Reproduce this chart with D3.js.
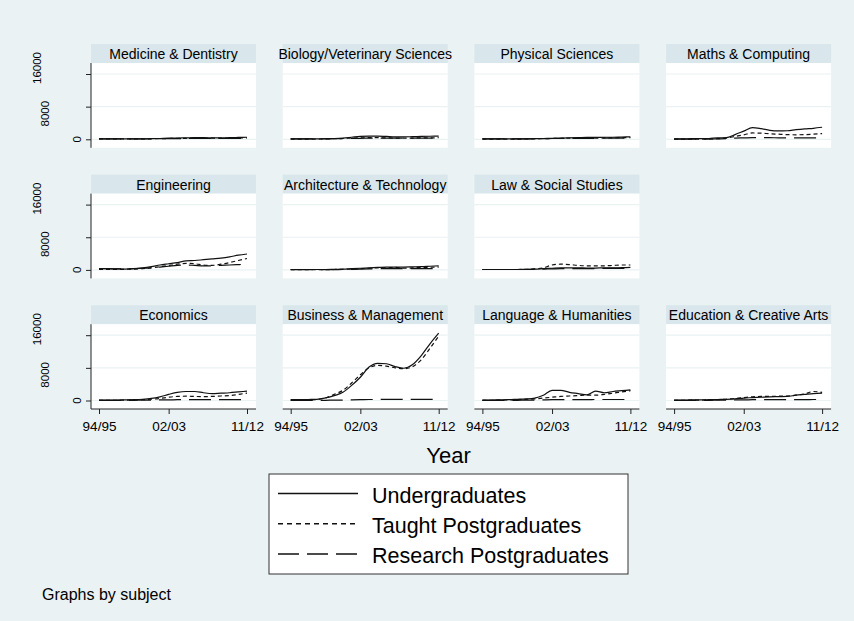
<!DOCTYPE html>
<html>
<head>
<meta charset="utf-8">
<script src="https://cdn.jsdelivr.net/npm/d3@7"></script>
<style>
html,body{margin:0;padding:0;background:#EAF2F3;}
svg{display:block;font-family:"Liberation Sans",Arial,sans-serif;}
</style>
</head>
<body>
<svg id="chart" width="854" height="621"></svg>
<script>
const years = ["94/95","95/96","96/97","97/98","98/99","99/00","00/01","01/02","02/03","03/04","04/05","05/06","06/07","07/08","08/09","09/10","10/11","11/12"];
const xTickLabels = ["94/95","02/03","11/12"];
const yTicks = [0, 8000, 16000];
const subjects = ["Medicine & Dentistry","Biology/Veterinary Sciences","Physical Sciences","Maths & Computing",
  "Engineering","Architecture & Technology","Law & Social Studies",
  "Economics","Business & Management","Language & Humanities","Education & Creative Arts"];
const seriesNames = ["Undergraduates","Taught Postgraduates","Research Postgraduates"];

const undergraduates = [
  [100,100,100,100,100,100,150,200,300,300,350,400,400,350,350,400,450,500],
  [100,100,100,100,150,200,300,500,700,800,800,700,600,600,650,700,750,800],
  [100,100,100,100,100,120,150,200,250,300,350,400,450,450,500,500,550,600],
  [100,100,150,150,200,350,400,1150,2000,2850,2600,2200,2050,2100,2350,2550,2700,2950],
  [300,300,250,200,300,500,800,1200,1500,1800,2200,2300,2500,2700,2900,3200,3600,3900],
  [100,100,100,100,100,150,200,300,400,500,600,700,700,700,750,800,900,1000],
  [100,100,100,100,100,150,200,300,400,500,500,500,450,450,500,500,550,600],
  [100,100,100,150,200,300,500,900,1500,2000,2200,2200,1900,1700,1800,1900,2100,2300],
  [200,200,250,300,650,1200,2000,3700,5700,8200,9100,9000,8300,7900,8800,11000,13900,16500],
  [100,100,150,200,300,400,600,1300,2500,2500,2000,1700,1400,2300,1900,2200,2400,2600],
  [100,100,150,150,200,250,300,400,600,700,800,900,950,1000,1300,1500,1700,1800]
];
const taughtPostgraduates = [
  [100,100,100,100,100,100,120,150,200,250,250,300,300,300,300,300,350,350],
  [50,50,50,50,100,150,200,300,350,400,400,350,300,300,300,350,350,400],
  [50,50,50,50,50,80,100,150,200,250,300,300,300,300,350,350,400,400],
  [50,50,50,50,100,150,300,700,1100,1550,1500,1350,1250,1150,1100,1150,1250,1400],
  [100,100,100,150,200,300,500,800,1100,1400,1600,1500,1200,1100,1400,1800,2300,2800],
  [50,50,50,50,50,100,150,200,300,400,500,500,600,400,500,600,650,700],
  [100,100,100,100,100,150,250,500,1200,1400,1300,1100,1000,1000,1000,1100,1200,1200],
  [50,50,50,100,150,200,300,500,800,1000,1050,1000,950,1000,1100,1200,1500,1800],
  [100,100,150,250,600,1500,2500,4300,6300,8000,8600,8400,8000,7800,8300,10000,12800,15800],
  [50,50,100,150,200,300,400,600,800,1000,1100,1200,1300,1300,1500,1800,2100,2400],
  [50,50,100,100,150,200,300,500,700,900,1000,1000,1050,1100,1300,1600,2200,2000]
];
const researchPostgraduates = [
  [100,100,100,100,100,100,100,150,150,150,200,200,200,200,200,200,200,200],
  [100,100,100,100,100,150,150,200,250,300,300,300,300,300,300,300,300,300],
  [100,100,100,100,100,100,150,150,200,200,250,250,250,250,300,300,300,300],
  [50,50,50,50,50,100,150,300,350,400,400,400,350,350,350,350,350,350],
  [300,300,250,250,300,400,500,700,900,1100,1200,1100,1000,1000,1100,1200,1300,1400],
  [50,50,50,50,50,80,100,150,200,250,300,300,300,300,300,300,300,300],
  [100,100,100,100,100,100,150,200,250,300,300,300,300,300,350,350,350,400],
  [50,50,50,50,50,100,100,150,150,200,200,200,200,200,200,200,200,200],
  [50,50,50,50,50,100,100,150,200,250,250,300,300,300,300,300,300,300],
  [50,50,50,50,50,100,100,150,200,200,200,200,200,250,250,250,250,250],
  [50,50,50,50,50,80,100,150,150,200,200,200,200,200,200,200,250,250]
];
const cells = [0,1,2,3,4,5,6,8,9,10,11];

const seriesData = [undergraduates, taughtPostgraduates, researchPostgraduates];
const dashes = [null, "4,3", "22,8"];
const legendDashes = [null, "5,4", "21,8"];

const svg = d3.select("#chart");
svg.append("rect").attr("width",854).attr("height",621).attr("fill","#EAF2F3");

const PW = 165, colStep = 191.7, rowStep = 130.6, left0 = 91, top0 = 44;
const yLabelOff = [[0,0],[-32,7],[-40,-6]];

subjects.forEach((name, i) => {
  const cell = cells[i];
  const r = Math.floor(cell/4), c = cell % 4;
  const left = left0 + c*colStep, top = top0 + r*rowStep;
  const plotTop = top + 19, plotBottom = top + 103.8;
  const x = d3.scalePoint(years, [left+8, left+156]);
  const y = d3.scaleLinear([0,16000], [top+95.3, top+30]);
  const g = svg.append("g");
  g.append("rect").attr("x",left).attr("y",top).attr("width",PW).attr("height",19).attr("fill","#D9E6EB");
  g.append("text").attr("x",left+PW/2).attr("y",top+15).attr("text-anchor","middle")
    .attr("font-size",14).attr("fill","#000").text(name);
  g.append("rect").attr("x",left).attr("y",plotTop).attr("width",PW).attr("height",plotBottom-plotTop).attr("fill","#fff");
  g.selectAll("line.grid").data(yTicks).join("line").attr("class","grid")
    .attr("x1",left).attr("x2",left+PW).attr("y1",d=>y(d)).attr("y2",d=>y(d))
    .attr("stroke","#EAF2F3").attr("stroke-width",1.2);
  if (c === 0) {
    const ax = g.append("g").attr("transform",`translate(${left},0)`)
      .call(d3.axisLeft(y).tickValues(yTicks).tickSize(5).tickFormat(d3.format("d")));
    ax.select(".domain").remove();
    ax.selectAll(".tick line").attr("stroke","#222");
    ax.selectAll(".tick text").remove();
    g.append("line").attr("x1",left).attr("x2",left).attr("y1",plotTop).attr("y2",plotBottom).attr("stroke","#222").attr("stroke-width",1);
    yTicks.forEach((t, k) => {
      const cx = left - 14 + yLabelOff[k][0], cy = y(t) + yLabelOff[k][1];
      g.append("text").attr("transform",`translate(${cx},${cy}) rotate(-90)`)
        .attr("text-anchor","middle").attr("dy","0.35em").attr("font-size",11.5).attr("fill","#000").text(t);
    });
  }
  if (r === 2) {
    const ax = g.append("g").attr("transform",`translate(0,${plotBottom})`)
      .call(d3.axisBottom(x).tickValues(xTickLabels).tickSize(5));
    ax.select(".domain").remove();
    ax.selectAll(".tick line").attr("stroke","#222");
    ax.selectAll(".tick text").attr("font-size",13.5).attr("font-family","Liberation Sans, Arial, sans-serif")
      .attr("fill","#000").attr("dy","1.0em");
    g.append("line").attr("x1",left).attr("x2",left+PW).attr("y1",plotBottom).attr("y2",plotBottom).attr("stroke","#222").attr("stroke-width",1);
  }
  const line = d3.line().x((d,j)=>x(years[j])).y(d=>y(d)).curve(d3.curveMonotoneX);
  [2,1,0].forEach(s => {
    g.append("path").attr("d", line(seriesData[s][i])).attr("fill","none")
      .attr("stroke","#111").attr("stroke-width",1.2)
      .attr("stroke-dasharray", dashes[s]);
  });
});

svg.append("text").attr("x",448.5).attr("y",463).attr("text-anchor","middle").attr("font-size",22).attr("fill","#000").text("Year");

const lg = svg.append("g");
lg.append("rect").attr("x",269).attr("y",474).attr("width",359).attr("height",100).attr("fill","#fff").attr("stroke","#333").attr("stroke-width",1);
const legY = d3.scalePoint(seriesNames, [493.5, 554]);
seriesNames.forEach((n, s) => {
  lg.append("line").attr("x1",278).attr("x2",358).attr("y1",legY(n)).attr("y2",legY(n))
    .attr("stroke","#111").attr("stroke-width",1.5).attr("stroke-dasharray",legendDashes[s]);
  lg.append("text").attr("x",372).attr("y",legY(n)+9).attr("font-size",21.5).attr("fill","#000").text(n);
});

svg.append("text").attr("x",42).attr("y",600).attr("font-size",16).attr("fill","#000").text("Graphs by subject");
</script>
</body>
</html>
